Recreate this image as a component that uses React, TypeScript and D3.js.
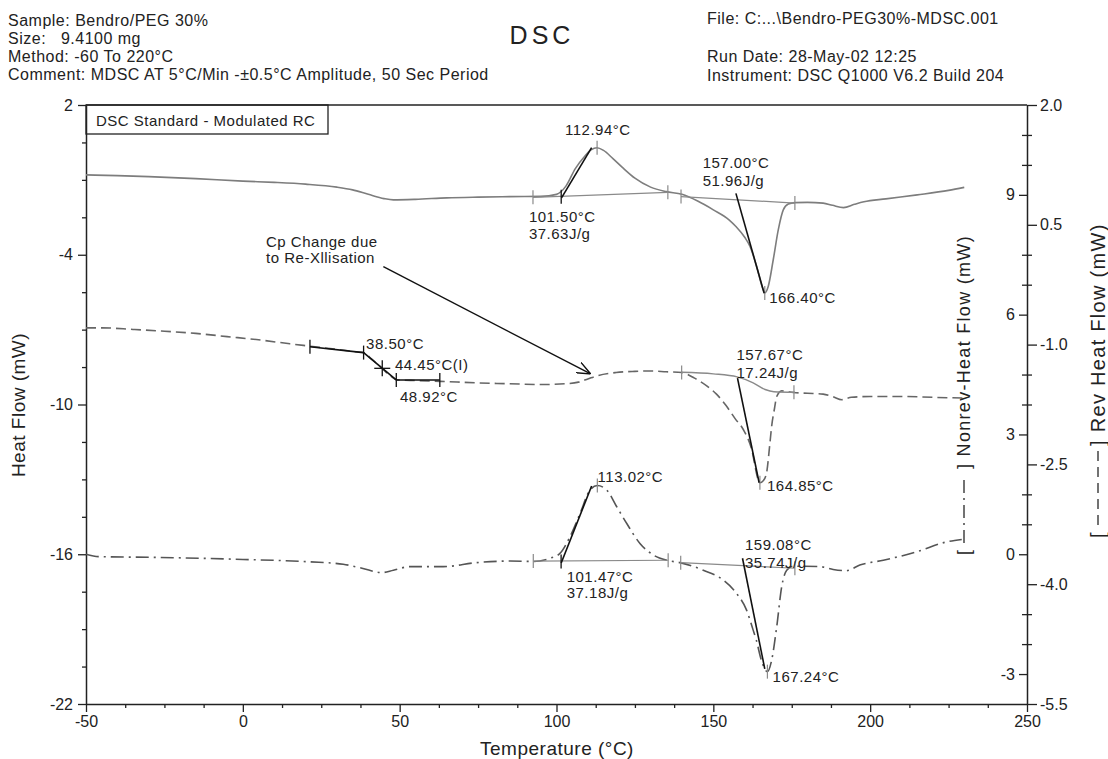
import * as d3 from 'd3';
import { useEffect, useRef } from 'react';

const W = 1108;
const H = 759;
const FONT = '"Liberation Sans", Arial, Helvetica, sans-serif';

// total heat flow (left axis, mW)
const hfTemp = [-50, -40, -30, -15, 0, 10, 20, 30, 35, 40, 45, 48, 55, 65, 75, 85, 95, 100, 103, 106, 109, 111, 112.94, 115, 118, 121, 125, 130, 135, 140, 145, 150, 155, 157.2, 160, 161.7, 163.8, 165.9, 166.4, 167.5, 169.1, 170.7, 172.3, 173.9, 176, 180, 185, 188, 191.5, 195, 198, 205, 215, 225, 230];
const hfVal = [-0.8, -0.83, -0.87, -0.95, -1.05, -1.1, -1.17, -1.29, -1.4, -1.58, -1.75, -1.8, -1.78, -1.72, -1.69, -1.67, -1.66, -1.58, -1.25, -0.55, -0.05, 0.2, 0.29, 0.18, -0.15, -0.5, -0.93, -1.29, -1.47, -1.58, -1.85, -2.2, -2.6, -2.87, -3.3, -3.67, -4.47, -5.4, -5.53, -5.27, -4.2, -3.0, -2.2, -1.97, -1.91, -1.9, -1.93, -2.02, -2.11, -1.98, -1.88, -1.76, -1.6, -1.42, -1.3];

// reversing heat flow (outer right axis, mW)
const revTemp = [-50, -45, -35, -26, -15, -5, 5, 15, 21.4, 30, 36, 38.5, 41, 44.45, 47, 49, 55, 63, 75, 85, 95, 103, 107, 110, 113, 119, 125, 130, 135, 140, 144, 148, 151, 154, 157, 159.5, 162.2, 164.3, 164.85, 166, 167, 168, 168.6, 169.5, 170.2, 171.8, 175.5, 180, 185, 188, 191, 194, 200, 210, 220, 230];
const revVal = [-0.79, -0.79, -0.81, -0.83, -0.86, -0.9, -0.94, -0.99, -1.02, -1.06, -1.09, -1.1, -1.18, -1.3, -1.39, -1.44, -1.45, -1.46, -1.48, -1.49, -1.5, -1.49, -1.47, -1.43, -1.39, -1.35, -1.335, -1.33, -1.34, -1.35, -1.42, -1.52, -1.62, -1.76, -1.93, -2.06, -2.31, -2.69, -2.73, -2.7, -2.6, -2.25, -2.02, -1.8, -1.65, -1.58, -1.6, -1.61, -1.62, -1.65, -1.69, -1.66, -1.65, -1.65, -1.66, -1.67];

// non-reversing heat flow (inner right axis, mW)
const nonTemp = [-50, -46, -26.4, 0, 21.4, 32, 38, 44.3, 48, 53.3, 63.9, 74.5, 85.2, 92.6, 97.9, 101.1, 104.3, 107.5, 110.7, 113.02, 116, 119.2, 122.4, 126.6, 130.9, 135.1, 139.4, 146.8, 153.2, 157.4, 160.6, 162.7, 163.7, 165.3, 167.24, 168.6, 170.2, 171.8, 173.4, 175.5, 184, 188.2, 192.5, 196.7, 204.2, 214.8, 224.4, 229.2];
const nonVal = [0.0, -0.06, -0.08, -0.13, -0.19, -0.25, -0.35, -0.46, -0.4, -0.31, -0.31, -0.21, -0.17, -0.18, -0.1, 0.02, 0.44, 1.02, 1.61, 1.72, 1.61, 1.19, 0.77, 0.27, -0.02, -0.15, -0.21, -0.4, -0.65, -0.98, -1.4, -1.9, -2.15, -2.65, -2.94, -2.65, -1.82, -0.81, -0.4, -0.3, -0.31, -0.38, -0.41, -0.27, -0.15, 0.06, 0.31, 0.37];

const xTicks = [-50, 0, 50, 100, 150, 200, 250];
const leftTicks = [2, -4, -10, -16, -22];
const revTicks = [2.0, 0.5, -1.0, -2.5, -4.0, -5.5];
const nonTicks = [9, 6, 3, 0, -3];

const headerLeft = [
  'Sample: Bendro/PEG 30%',
  'Size:   9.4100 mg',
  'Method: -60 To 220°C',
  'Comment: MDSC AT 5°C/Min -±0.5°C Amplitude, 50 Sec Period',
];
const headerRight = ['File: C:...\\Bendro-PEG30%-MDSC.001', '', 'Run Date: 28-May-02 12:25', 'Instrument: DSC Q1000 V6.2 Build 204'];

// analysis annotations, in each curve's own units
const hfLabels = [
  { t: 102.7, v: 0.8, text: '112.94°C' },
  { t: 91.2, v: -2.67, text: '101.50°C' },
  { t: 91.2, v: -3.38, text: '37.63J/g' },
  { t: 146.6, v: -0.53, text: '157.00°C' },
  { t: 146.6, v: -1.25, text: '51.96J/g' },
  { t: 167.8, v: -5.92, text: '166.40°C' },
];
const hfBase = [
  [[92.5, -1.7], [135.5, -1.5]],
  [[139.7, -1.67], [176, -1.93]],
];
const hfTicks = [[92.5, -1.7], [135.5, -1.5], [139.7, -1.67], [176, -1.93], [112.94, 0.29], [166.4, -5.53]];
const hfTangents = [
  [[101.6, -1.72], [111.2, 0.29]],
  [[157.2, -1.54], [166.2, -5.54]],
];
const hfOnsets = [[101.5, -1.68]];

const revLabels = [
  { t: 39.3, v: -1.06, text: '38.50°C' },
  { t: 48.5, v: -1.32, text: '44.45°C(I)' },
  { t: 50.1, v: -1.715, text: '48.92°C' },
  { t: 157.4, v: -1.193, text: '157.67°C' },
  { t: 157.4, v: -1.414, text: '17.24J/g' },
  { t: 167.1, v: -2.83, text: '164.85°C' },
  { t: 7.4, v: 0.226, text: 'Cp Change due' },
  { t: 7.4, v: 0.018, text: 'to Re-Xllisation' },
];
const revSigmoidT = [139.9, 150, 157.6, 162.7, 166.5, 169.3, 176];
const revSigmoidV = [-1.346, -1.366, -1.404, -1.479, -1.5625, -1.59, -1.596];
const revTicksGray = [[139.9, -1.35], [175.7, -1.596], [164.85, -2.73]];
const revTangents = [
  [[21.4, -1.026], [38.4, -1.1]],
  [[38.5, -1.1], [48.9, -1.443]],
  [[48.92, -1.443], [62.8, -1.443]],
  [[157.7, -1.42], [164.6, -2.73]],
];
const revTicksDark = [[21.4, -1.026], [38.5, -1.1], [48.92, -1.443], [62.8, -1.443]];
const revCross = [[44.45, -1.297]];
const revArrow = [[44.8, -0.025], [110.9, -1.368]];

const nonLabels = [
  { t: 113.1, v: 1.82, text: '113.02°C' },
  { t: 103.25, v: -0.69, text: '101.47°C' },
  { t: 103.25, v: -1.1, text: '37.18J/g' },
  { t: 160.1, v: 0.1, text: '159.08°C' },
  { t: 160.1, v: -0.35, text: '35.74J/g' },
  { t: 168.9, v: -3.21, text: '167.24°C' },
];
const nonBase = [
  [[92.6, -0.17], [135.6, -0.15]],
  [[139.6, -0.21], [176, -0.35]],
];
const nonTicksGray = [[92.6, -0.17], [135.6, -0.15], [139.6, -0.21], [176, -0.35], [113.02, 1.72], [167.24, -2.94]];
const nonTangents = [
  [[101.5, -0.22], [111.2, 1.71]],
  [[159.3, -0.1], [166.4, -2.87]],
];
const nonOnsets = [[101.47, -0.18]];

const x = d3.scaleLinear().domain([-50, 250]).range([86, 1027]);
const yHF = d3.scaleLinear().domain([-22, 2]).range([704, 105]);
const yRev = d3.scaleLinear().domain([-5.5, 2]).range([704, 105]);
const yNon = d3.scaleLinear().domain([-3.75, 11.25]).range([704, 105]);

const curve = (ys, temps, vals) =>
  d3
    .line()
    .x(d => x(d[0]))
    .y(d => ys(d[1]))
    .curve(d3.curveMonotoneX)(d3.zip(temps, vals));

const seg = (ys, pts) =>
  d3
    .line()
    .x(d => x(d[0]))
    .y(d => ys(d[1]))(pts);

function Marks({ ys, base = [], grayTicks = [], tangents = [], darkTicks = [], labels = [] }) {
  return (
    <g>
      {base.map((b, i) => (
        <path key={'b' + i} d={seg(ys, b)} stroke="#8a8a8a" strokeWidth={1.2} fill="none" />
      ))}
      {grayTicks.map((p, i) => (
        <line key={'g' + i} x1={x(p[0])} x2={x(p[0])} y1={ys(p[1]) - 7} y2={ys(p[1]) + 7} stroke="#8a8a8a" strokeWidth={1.2} />
      ))}
      {tangents.map((b, i) => (
        <path key={'t' + i} d={seg(ys, b)} stroke="#111" strokeWidth={1.6} fill="none" />
      ))}
      {darkTicks.map((p, i) => (
        <line key={'d' + i} x1={x(p[0])} x2={x(p[0])} y1={ys(p[1]) - 7} y2={ys(p[1]) + 7} stroke="#111" strokeWidth={1.3} />
      ))}
      {labels.map((l, i) => (
        <text key={'l' + i} x={x(l.t)} y={ys(l.v)} fontSize={15} letterSpacing={0.5} fill="#222">
          {l.text}
        </text>
      ))}
    </g>
  );
}

function App() {
  const axesRef = useRef(null);

  useEffect(() => {
    const g = d3.select(axesRef.current);
    g.selectAll('*').remove();
    const fmt = d => String(d);
    const fmt1 = d => d.toFixed(1);

    const xMinor = d3.range(-50, 250.1, 12.5).filter(d => !xTicks.includes(d));
    const leftMinor = d3.range(-22, 2.1, 1.5).filter(d => !leftTicks.includes(d));
    const rightMinor = d3.range(21).filter(i => i % 4 > 1).map(i => -5.5 + 0.375 * i);

    g.append('g')
      .attr('transform', 'translate(0,704)')
      .call(d3.axisBottom(x).tickValues(xTicks).tickSize(8).tickSizeOuter(0).tickPadding(4).tickFormat(fmt));
    g.append('g')
      .attr('class', 'minor')
      .attr('transform', 'translate(0,704)')
      .call(d3.axisBottom(x).tickValues(xMinor).tickSize(4).tickFormat(() => ''));

    g.append('g')
      .attr('transform', 'translate(86,0)')
      .call(d3.axisLeft(yHF).tickValues(leftTicks).tickSize(8).tickSizeOuter(0).tickPadding(5).tickFormat(fmt));
    g.append('g')
      .attr('class', 'minor')
      .attr('transform', 'translate(86,0)')
      .call(d3.axisLeft(yHF).tickValues(leftMinor).tickSize(4).tickFormat(() => ''));

    g.append('g')
      .attr('transform', 'translate(1027,0)')
      .call(d3.axisRight(yRev).tickValues(revTicks).tickSize(10).tickSizeOuter(0).tickPadding(3).tickFormat(fmt1));
    g.append('g')
      .attr('class', 'minor')
      .attr('transform', 'translate(1027,0)')
      .call(d3.axisLeft(yNon).tickValues(nonTicks).tickSize(8).tickPadding(4).tickFormat(fmt));
    g.append('g')
      .attr('class', 'minor')
      .attr('transform', 'translate(1027,0)')
      .call(d3.axisRight(yRev).tickValues(rightMinor).tickSize(5).tickFormat(() => ''));
    g.append('g')
      .attr('class', 'minor')
      .attr('transform', 'translate(1027,0)')
      .call(d3.axisLeft(yRev).tickValues(rightMinor).tickSize(5).tickFormat(() => ''));

    g.selectAll('.minor .domain').remove();
    g.selectAll('.domain').attr('stroke', '#222').attr('stroke-width', 1.5);
    g.selectAll('.tick line').attr('stroke', '#222').attr('stroke-width', 1.3);
    g.selectAll('.tick text').attr('font-size', 16).attr('font-family', FONT).attr('fill', '#222');
  }, []);

  return (
    <svg width={W} height={H} style={{ position: 'absolute', left: 0, top: 0, background: '#fff' }} fontFamily={FONT}>
      <defs>
        <marker id="arrow" viewBox="0 0 12 10" refX={12} refY={5} markerWidth={14} markerHeight={12} markerUnits="userSpaceOnUse" orient="auto">
          <path d="M0,0 L12,5 L0,10" fill="none" stroke="#111" strokeWidth={1.2} />
        </marker>
      </defs>

      {headerLeft.map((t, i) => (
        <text key={t} x={8} y={26 + i * 18} fontSize={16} letterSpacing={0.5} fill="#222" style={{ whiteSpace: 'pre' }}>
          {t}
        </text>
      ))}
      {headerRight.map((t, i) => (
        <text key={'r' + i} x={707} y={24 + i * 19} fontSize={16} letterSpacing={0.5} fill="#222">
          {t}
        </text>
      ))}
      <text x={542} y={44} fontSize={25} letterSpacing={4} textAnchor="middle" fill="#222">
        DSC
      </text>

      <line x1={86} x2={1027} y1={105} y2={105} stroke="#222" strokeWidth={1.5} />
      <rect x={86} y={105} width={242} height={29} fill="none" stroke="#222" strokeWidth={1.3} />
      <text x={96} y={126} fontSize={15} letterSpacing={0.5} fill="#222">
        DSC Standard - Modulated RC
      </text>

      <g ref={axesRef} />

      <path d={curve(yHF, hfTemp, hfVal)} fill="none" stroke="#7d7d7d" strokeWidth={1.6} />
      <path d={curve(yRev, revTemp, revVal)} fill="none" stroke="#666" strokeWidth={1.6} strokeDasharray="10,5" />
      <path d={curve(yNon, nonTemp, nonVal)} fill="none" stroke="#555" strokeWidth={1.6} strokeDasharray="13,5,2,5" />
      <path d={curve(yRev, revSigmoidT, revSigmoidV)} fill="none" stroke="#8a8a8a" strokeWidth={1.4} />

      <Marks ys={yHF} base={hfBase} grayTicks={hfTicks} tangents={hfTangents} darkTicks={hfOnsets} labels={hfLabels} />
      <Marks ys={yRev} grayTicks={revTicksGray} tangents={revTangents} darkTicks={revTicksDark} labels={revLabels} />
      {revCross.map((p, i) => (
        <line key={i} x1={x(p[0]) - 8} x2={x(p[0]) + 8} y1={yRev(p[1])} y2={yRev(p[1])} stroke="#111" strokeWidth={1.3} />
      ))}
      {revCross.map((p, i) => (
        <line key={'v' + i} x1={x(p[0])} x2={x(p[0])} y1={yRev(p[1]) - 8} y2={yRev(p[1]) + 8} stroke="#111" strokeWidth={1.3} />
      ))}
      <path d={seg(yRev, revArrow)} stroke="#111" strokeWidth={1.4} fill="none" markerEnd="url(#arrow)" />
      <Marks ys={yNon} base={nonBase} grayTicks={nonTicksGray} tangents={nonTangents} darkTicks={nonOnsets} labels={nonLabels} />

      <text transform="translate(25,405) rotate(-90)" fontSize={19} letterSpacing={0.5} textAnchor="middle" fill="#222">
        Heat Flow (mW)
      </text>
      <text x={557} y={755} fontSize={19} letterSpacing={0.5} textAnchor="middle" fill="#222">
        Temperature (°C)
      </text>

      <g transform="translate(970,555) rotate(-90)" fill="#222">
        <text x={0} y={0} fontSize={18}>[</text>
        <line x1={12} x2={80} y1={-6} y2={-6} stroke="#444" strokeWidth={1.5} strokeDasharray="13,5,2,5" />
        <text x={86} y={0} fontSize={18} letterSpacing={1.3}>
          ] Nonrev-Heat Flow (mW)
        </text>
      </g>
      <g transform="translate(1105,538) rotate(-90)" fill="#222">
        <text x={0} y={0} fontSize={20}>[</text>
        <line x1={13} x2={88} y1={-7} y2={-7} stroke="#444" strokeWidth={1.5} strokeDasharray="10,6" />
        <text x={92} y={0} fontSize={20} letterSpacing={1.3}>
          ] Rev Heat Flow (mW)
        </text>
      </g>
    </svg>
  );
}

export default App;
